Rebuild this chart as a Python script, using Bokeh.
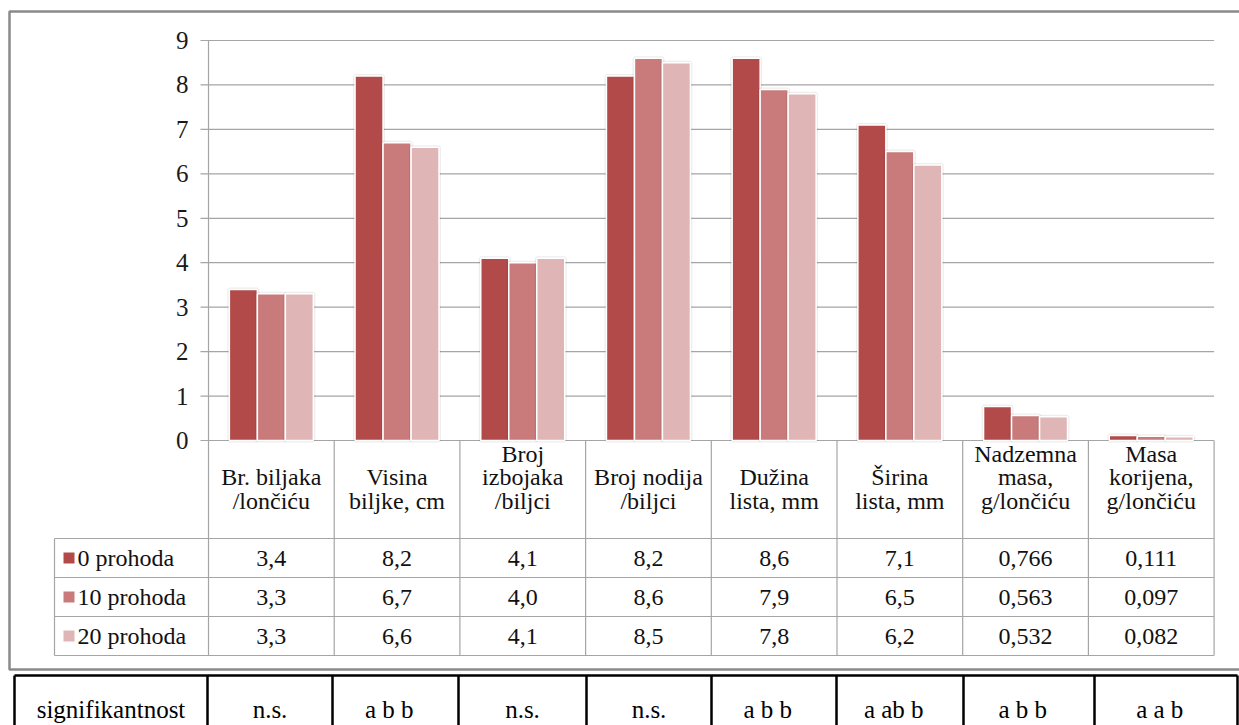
from bokeh.plotting import figure
from bokeh.models import Range1d, ColumnDataSource
from bokeh.core.properties import value
from bokeh.embed import file_html
from bokeh.resources import INLINE

# ---------------- data ----------------
categories = [
    "Br. biljaka\n/lončiću",
    "Visina\nbiljke, cm",
    "Broj\nizbojaka\n/biljci",
    "Broj nodija\n/biljci",
    "Dužina\nlista, mm",
    "Širina\nlista, mm",
    "Nadzemna\nmasa,\ng/lončiću",
    "Masa\nkorijena,\ng/lončiću",
]
series_names = ["0 prohoda", "10 prohoda", "20 prohoda"]
prohoda_0 = [3.4, 8.2, 4.1, 8.2, 8.6, 7.1, 0.766, 0.111]
prohoda_10 = [3.3, 6.7, 4.0, 8.6, 7.9, 6.5, 0.563, 0.097]
prohoda_20 = [3.3, 6.6, 4.1, 8.5, 7.8, 6.2, 0.532, 0.082]
decimals = [1, 1, 1, 1, 1, 1, 3, 3]
y_ticks = [0, 1, 2, 3, 4, 5, 6, 7, 8, 9]
sig_header = "signifikantnost"
significance = ["n.s.", "a  b  b", "n.s.", "n.s.", "a  b  b", "a  ab  b", "a  b  b", "a  a  b"]

series = [prohoda_0, prohoda_10, prohoda_20]
colors = ["#B24A4A", "#C97B7B", "#DFB5B5"]

# ---------------- layout constants (canvas pixels) ----------------
W, H = 1239, 725
OFF = 0.0
X0 = 208.0
CW = 125.7
Y0 = 440.0
PU = 400.0 / 9.0
GRID = "#A5A5A5"
FONT = value("Liberation Serif")

p = figure(
    width=W, height=H,
    x_range=Range1d((OFF - X0) / CW, (OFF + W - X0) / CW),
    y_range=Range1d((Y0 - (OFF + H)) / PU, (Y0 - OFF) / PU),
    output_backend="svg", toolbar_location=None,
    x_axis_location=None, y_axis_location=None,
    min_border=0, min_border_left=0, min_border_right=0,
    min_border_top=0, min_border_bottom=0,
)
p.grid.visible = False
p.outline_line_color = None
p.background_fill_color = "white"
p.border_fill_color = "white"
p.extra_x_ranges = {"px": Range1d(OFF, OFF + W)}
p.extra_y_ranges = {"px": Range1d(OFF + H, OFF)}

n = len(categories)

# chart frame
p.quad(left=[9], right=[1300], top=[11], bottom=[669], fill_color=None,
       line_color="#8A8A8A", line_width=2.5, x_range_name="px", y_range_name="px")

# gridlines, axis, tick labels
p.segment(x0=[-8 / CW] * len(y_ticks), x1=[n] * len(y_ticks), y0=y_ticks, y1=y_ticks,
          line_color=GRID, line_width=1.2)
p.segment(x0=[0], x1=[0], y0=[0], y1=[max(y_ticks)], line_color=GRID, line_width=1.2)
p.text(x=[188] * len(y_ticks), y=y_ticks, text=[str(t) for t in y_ticks],
       x_range_name="px", text_align="right", text_baseline="middle",
       text_font=FONT, text_font_size="25px", text_color="#1a1a1a")

# bars
pitch = 28.0 / CW
for j, (vals, col) in enumerate(zip(series, colors)):
    xs = [i + 0.5 + (j - 1) * pitch for i in range(n)]
    src = ColumnDataSource(dict(x=xs, top=vals))
    p.vbar(x="x", top="top", bottom=0, width=pitch, source=src,
           fill_color=None, line_color="#000000", line_alpha=0.07, line_width=4)
    p.vbar(x="x", top="top", bottom=0, width=pitch, source=src,
           fill_color=col, line_color="white", line_width=1.5)

# data table
row_lines = [538, 577, 616, 655]
col_x = [X0 + k * CW for k in range(n + 1)]
p.segment(x0=col_x, x1=col_x, y0=[Y0] * len(col_x), y1=[row_lines[-1]] * len(col_x),
          line_color=GRID, line_width=1.2, x_range_name="px", y_range_name="px")
p.segment(x0=[54], x1=[54], y0=[row_lines[0]], y1=[row_lines[-1]],
          line_color=GRID, line_width=1.2, x_range_name="px", y_range_name="px")
p.segment(x0=[54] * len(row_lines), x1=[col_x[-1]] * len(row_lines), y0=row_lines, y1=row_lines,
          line_color=GRID, line_width=1.2, x_range_name="px", y_range_name="px")

hx, hy, ht = [], [], []
for i, cat in enumerate(categories):
    lines = cat.split("\n")
    for k, ln in enumerate(lines):
        hx.append(i + 0.5)
        hy.append(500 - (len(lines) - 1 - k) * 23.5)
        ht.append(ln)
p.text(x=hx, y=hy, text=ht, y_range_name="px", text_align="center",
       text_baseline="middle", text_font=FONT, text_font_size="24px", text_color="#111111")

vx, vy, vt = [], [], []
for j, vals in enumerate(series):
    yc = (row_lines[j] + row_lines[j + 1]) / 2
    for i, v in enumerate(vals):
        vx.append(i + 0.5)
        vy.append(yc)
        vt.append(f"{v:.{decimals[i]}f}".replace(".", ","))
p.text(x=vx, y=vy, text=vt, y_range_name="px", text_align="center",
       text_baseline="middle", text_font=FONT, text_font_size="24px", text_color="#111111")

lyc = [(row_lines[j] + row_lines[j + 1]) / 2 for j in range(3)]
p.rect(x=[68.5] * 3, y=lyc, width=11, height=11, fill_color=colors, line_color=None,
       x_range_name="px", y_range_name="px")
p.text(x=[77] * 3, y=lyc, text=series_names, x_range_name="px", y_range_name="px",
       text_align="left", text_baseline="middle", text_font=FONT,
       text_font_size="24px", text_color="#111111")

# significance table
sig_x = [14, 207, 332, 458, 586, 711, 836, 963, 1094, 1237]
p.segment(x0=[sig_x[0]], x1=[sig_x[-1]], y0=[675], y1=[675], line_color="black",
          line_width=2.5, x_range_name="px", y_range_name="px")
p.segment(x0=sig_x, x1=sig_x, y0=[675] * len(sig_x), y1=[760] * len(sig_x), line_color="black",
          line_width=2.5, x_range_name="px", y_range_name="px")
sig_texts = [sig_header] + significance
sig_cx = [(sig_x[k] + sig_x[k + 1]) / 2 for k in range(len(sig_texts))]
p.text(x=sig_cx, y=[709] * len(sig_texts), text=sig_texts, x_range_name="px", y_range_name="px",
       text_align="center", text_baseline="middle", text_font=FONT,
       text_font_size="25px", text_color="black")

open("out.html", "w").write(file_html(p, INLINE))
